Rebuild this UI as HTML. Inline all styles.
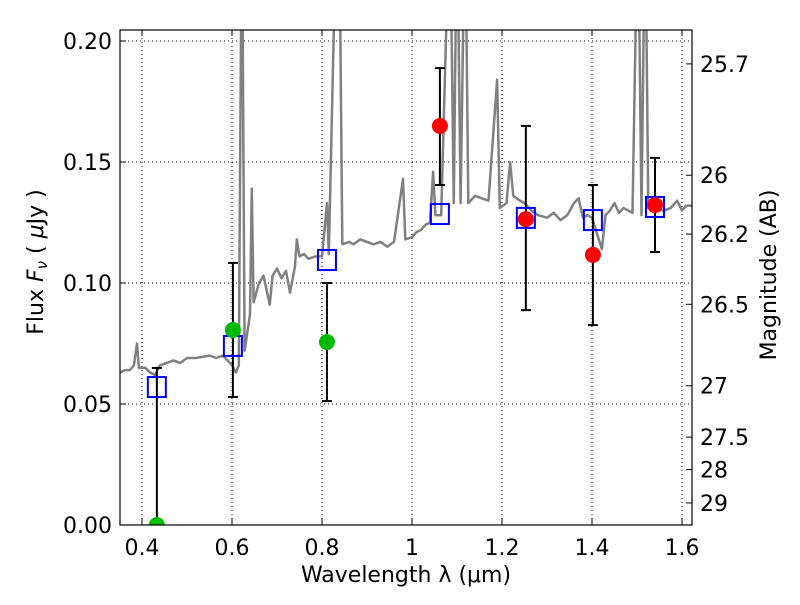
<!DOCTYPE html>
<html><head><meta charset="utf-8"><style>
body{margin:0;background:#fff;}
svg text{font-family:"DejaVu Sans","Liberation Sans",sans-serif;font-size:22px;fill:#000;}
</style></head><body>
<svg id="c" width="800" height="600"></svg>
<script>
const specLam=[0.351,0.362,0.373,0.382,0.389,0.393,0.407,0.418,0.429,0.44,0.455,0.47,0.485,0.50,0.52,0.55,0.565,0.58,0.60,0.609,0.615,0.622,0.628,0.64,0.644,0.648,0.66,0.67,0.684,0.69,0.70,0.71,0.72,0.729,0.74,0.744,0.75,0.76,0.77,0.785,0.80,0.811,0.815,0.833,0.838,0.845,0.86,0.87,0.885,0.90,0.915,0.93,0.945,0.96,0.98,0.985,1.0,1.01,1.02,1.03,1.04,1.047,1.052,1.065,1.084,1.093,1.10,1.108,1.118,1.125,1.14,1.155,1.17,1.189,1.195,1.21,1.218,1.225,1.24,1.25,1.265,1.28,1.30,1.315,1.33,1.345,1.36,1.37,1.38,1.39,1.40,1.41,1.422,1.43,1.44,1.45,1.46,1.47,1.49,1.502,1.51,1.518,1.525,1.54,1.56,1.575,1.589,1.6,1.61,1.622];
const specFlux=[0.063,0.064,0.064,0.066,0.075,0.065,0.065,0.063,0.062,0.066,0.067,0.068,0.067,0.069,0.069,0.070,0.069,0.070,0.066,0.063,0.066,0.26,0.072,0.087,0.139,0.092,0.100,0.103,0.091,0.103,0.106,0.102,0.105,0.096,0.107,0.118,0.111,0.112,0.110,0.111,0.111,0.133,0.112,0.26,0.26,0.116,0.117,0.116,0.118,0.117,0.116,0.117,0.115,0.117,0.143,0.118,0.119,0.121,0.122,0.124,0.125,0.146,0.128,0.128,0.26,0.133,0.26,0.133,0.26,0.133,0.136,0.135,0.134,0.184,0.131,0.133,0.150,0.136,0.134,0.133,0.130,0.128,0.127,0.129,0.126,0.128,0.133,0.135,0.127,0.128,0.127,0.121,0.114,0.128,0.130,0.133,0.129,0.131,0.129,0.26,0.128,0.26,0.131,0.130,0.130,0.131,0.134,0.130,0.132,0.132];
const modelLam=[0.433,0.602,0.811,1.062,1.253,1.402,1.54];
const modelFlux=[0.0570,0.0740,0.1095,0.1285,0.1269,0.1260,0.1314];
const obsLam=[0.433,0.602,0.811,1.062,1.253,1.402,1.54];
const obsFlux=[0.0,0.0806,0.0756,0.1649,0.1264,0.1116,0.1322];
const obsLo=[-0.01,0.0529,0.0512,0.1405,0.0888,0.0826,0.1128];
const obsHi=[0.0649,0.1083,0.1000,0.1888,0.1649,0.1405,0.1517];
const obsColor=['#00bb00','#00bb00','#00bb00','red','red','red','red'];
const xTicks=[0.4,0.6,0.8,1.0,1.2,1.4,1.6];
const xTickLabels=['0.4','0.6','0.8','1','1.2','1.4','1.6'];
const yTicks=[0,0.05,0.10,0.15,0.20];
const yTickLabels=['0.00','0.05','0.10','0.15','0.20'];
const magTicks=[25.7,26,26.2,26.5,27,27.5,28,29];
const magTickLabels=['25.7','26','26.2','26.5','27','27.5','28','29'];

const L=120,R=692,T=30,B=525;
const X=v=>142+(v-0.4)*450;
const Y=v=>B-v*2420;
const M=m=>Y(Math.pow(10,(23.9-m)/2.5));
const svg=document.getElementById('c');const NS='http://www.w3.org/2000/svg';
function mk(t,a,p){const e=document.createElementNS(NS,t);for(const k in a)e.setAttribute(k,a[k]);(p||svg).appendChild(e);return e;}
const defs=mk('defs',{});const cp=mk('clipPath',{id:'clip'},defs);mk('rect',{x:L,y:T,width:R-L,height:B-T},cp);
xTicks.forEach((v,i)=>{
 const g=mk('line',{x1:X(v),x2:X(v),y1:T,y2:B,stroke:'#000','stroke-dasharray':'1,3','stroke-width':1});
 
 
 mk('line',{x1:X(v),x2:X(v),y1:B,y2:B-6,stroke:'#000'});mk('line',{x1:X(v),x2:X(v),y1:T,y2:T+6,stroke:'#000'});
 const t=mk('text',{x:X(v),y:B+30,'text-anchor':'middle'});t.textContent=xTickLabels[i];
 
 
});
yTicks.forEach((v,i)=>{
 const g=mk('line',{x1:L,x2:R,y1:Y(v),y2:Y(v),stroke:'#000','stroke-dasharray':'1,3','stroke-width':1});
 
 
 mk('line',{x1:L,x2:L+6,y1:Y(v),y2:Y(v),stroke:'#000'});
 const t=mk('text',{x:L-8,y:Y(v)+8,'text-anchor':'end'});t.textContent=yTickLabels[i];
 
 
});
magTicks.forEach((m,i)=>{
 mk('line',{x1:R-6,x2:R,y1:M(m),y2:M(m),stroke:'#000'});
 const t=mk('text',{x:R+8,y:M(m)+8,'text-anchor':'start'});t.textContent=magTickLabels[i];
 
 
});
let d='';specLam.forEach((l,i)=>{d+=(i?'L':'M')+X(l).toFixed(1)+','+Y(specFlux[i]).toFixed(1);});
const sp=mk('path',{d:d,fill:'none',stroke:'#808080','stroke-width':2.5,'clip-path':'url(#clip)','stroke-linejoin':'round'});


obsLam.forEach((l,i)=>{
 const x=X(l);const g=mk('g',{'clip-path':'url(#clip)'});
 
 
 mk('line',{x1:x,x2:x,y1:Y(obsLo[i]),y2:Y(obsHi[i]),stroke:'#000','stroke-width':2},g);
 mk('line',{x1:x-5,x2:x+5,y1:Y(obsLo[i]),y2:Y(obsLo[i]),stroke:'#000','stroke-width':2},g);
 mk('line',{x1:x-5,x2:x+5,y1:Y(obsHi[i]),y2:Y(obsHi[i]),stroke:'#000','stroke-width':2},g);
});
modelLam.forEach((l,i)=>{
 const r=mk('rect',{x:X(l)-9,y:Y(modelFlux[i])-10,width:18,height:20,fill:'none',stroke:'#0000ff','stroke-width':2});
 
 
});
obsLam.forEach((l,i)=>{
 const c=mk('circle',{cx:X(l),cy:Y(obsFlux[i]),r:8,fill:obsColor[i],'clip-path':'url(#clip)'});
 
 
});
const fr=mk('rect',{x:L,y:T,width:R-L,height:B-T,fill:'none',stroke:'#000','stroke-width':1.2});


const xt=mk('text',{x:406,y:582,'text-anchor':'middle'});xt.textContent='Wavelength  λ (μm)';


const yt=mk('text',{x:0,y:0,'text-anchor':'middle',transform:'translate(43,262) rotate(-90)'});yt.innerHTML='Flux  <tspan font-style="italic">F</tspan><tspan font-size="15" dy="4" font-style="italic">ν</tspan><tspan dy="-4">  (  </tspan><tspan font-style="italic">μ</tspan>Jy )';


const rt=mk('text',{x:0,y:0,'text-anchor':'middle',transform:'translate(776,275) rotate(-90)'});rt.textContent='Magnitude (AB)';


</script>
</body></html>
